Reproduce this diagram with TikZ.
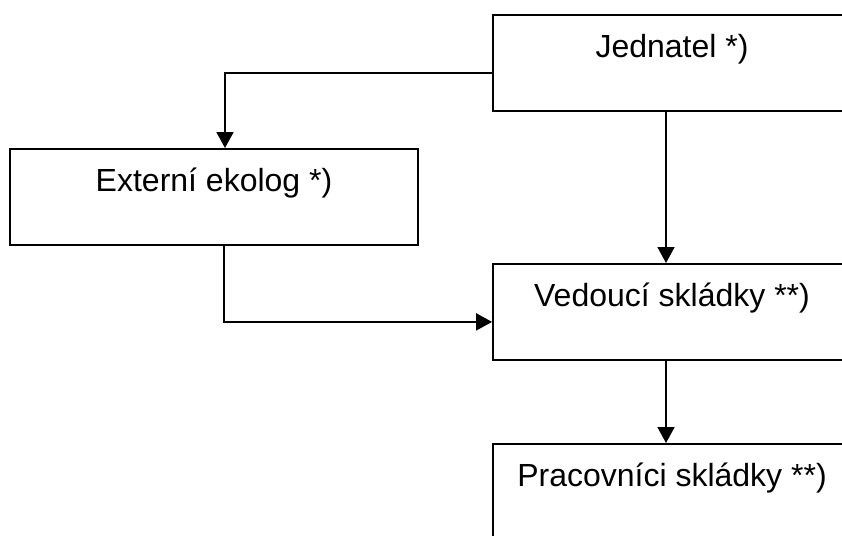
\documentclass[tikz,border=0pt]{standalone}
\usepackage{fontspec}
\setmainfont{Liberation Sans}
\usetikzlibrary{arrows.meta}
\usetikzlibrary{positioning}

\begin{document}
\begin{tikzpicture}[x=1pt, y=-1pt, line width=1.8pt,
    post/.style = {draw, rectangle, inner sep=0pt, minimum width=358pt,
        text height=43pt, text depth=53pt,
        font=\fontsize{32}{38}\selectfont},
    link/.style = {-{Triangle[length=16pt, width=17pt]}}]
    \useasboundingbox (0,0) rectangle (842,535);
    \clip (0,0) rectangle (842,535);

    \node[post] (jed) at (672, 14) [anchor=north] {Jednatel *)};
    \node[post, minimum width=408pt] (ext) at (214, 148) [anchor=north] {Externí ekolog *)};

    \node[post] (ved) at (672, 263) [anchor=north] {Vedoucí skládky **)};
    \node[post] (pra) at (672, 443) [anchor=north] {Pracovníci skládky **)};

    \draw[link] ([yshift=-10pt]jed.west) -| ([xshift=11pt]ext.north);
    \draw[link] ([xshift=-6pt]jed.south) -- ([xshift=-6pt]ved.north);
    \draw[link] ([xshift=10pt]ext.south) |- ([yshift=-10pt]ved.west);
    \draw[link] ([xshift=-6pt]ved.south) -- ([xshift=-6pt]pra.north);

\end{tikzpicture}
\end{document}
